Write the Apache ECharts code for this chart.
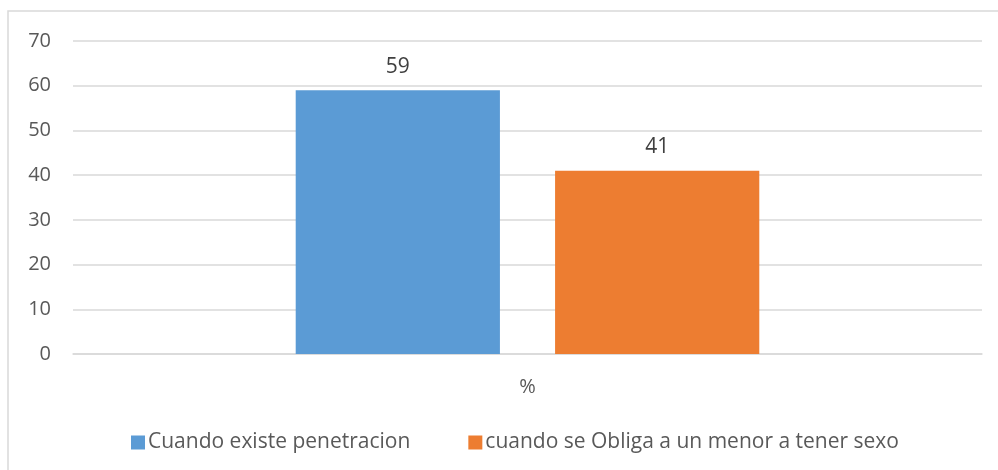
<!DOCTYPE html>
<html>
<head>
<meta charset="utf-8">
<script src="https://cdn.jsdelivr.net/npm/echarts@6/dist/echarts.min.js"></script>
<style>
  html, body { margin: 0; padding: 0; background: #fff; }
  #main { width: 998px; height: 470px; }
</style>
</head>
<body>
<div id="main"></div>
<script>
// datos del grafico
var categories = ['%'];
var seriesNames = ['Cuando existe penetracion', 'cuando se Obliga a un menor a tener sexo'];
var penetracion = [59];
var obliga = [41];
var colors = ['#5B9BD5', '#ED7D31'];

var font = '"Open Sans", "Noto Sans", sans-serif';

var chart = echarts.init(document.getElementById('main'));
var option = {
  animation: false,
  textStyle: { fontFamily: font },
  graphic: [{
    type: 'rect',
    shape: { x: 8, y: 11, width: 1000, height: 470 },
    style: { fill: 'none', stroke: '#d9d9d9', lineWidth: 1.5 },
    silent: true
  }],
  grid: { left: 73, right: 16, top: 41, bottom: 116 },
  legend: {
    top: 427,
    left: 126,
    itemWidth: 14,
    itemHeight: 14,
    itemGap: 58,
    icon: 'rect',
    textStyle: { fontSize: 21, color: '#595959', fontFamily: font, padding: [0, 0, 0, -2] },
    data: seriesNames
  },
  xAxis: {
    type: 'category',
    data: categories,
    axisLine: { lineStyle: { color: '#d9d9d9', width: 1.5 } },
    axisTick: { show: false },
    axisLabel: { color: '#595959', fontSize: 20, margin: 23, fontFamily: font }
  },
  yAxis: {
    type: 'value',
    min: 0,
    max: 70,
    interval: 10,
    axisLine: { show: false },
    axisTick: { show: false },
    splitLine: { lineStyle: { color: '#d9d9d9', width: 1.5 } },
    axisLabel: { color: '#595959', fontSize: 20, margin: 22, fontFamily: font }
  },
  series: [
    {
      name: seriesNames[0],
      type: 'bar',
      data: penetracion,
      itemStyle: { color: colors[0] },
      barGap: '27%',
      barCategoryGap: '49%',
      label: { show: true, position: 'top', distance: 13, color: '#404040', fontSize: 21, fontFamily: font }
    },
    {
      name: seriesNames[1],
      type: 'bar',
      data: obliga,
      itemStyle: { color: colors[1] },
      barGap: '27%',
      barCategoryGap: '49%',
      label: { show: true, position: 'top', distance: 13, color: '#404040', fontSize: 21, fontFamily: font }
    }
  ]
};
chart.setOption(option);
</script>
</body>
</html>
